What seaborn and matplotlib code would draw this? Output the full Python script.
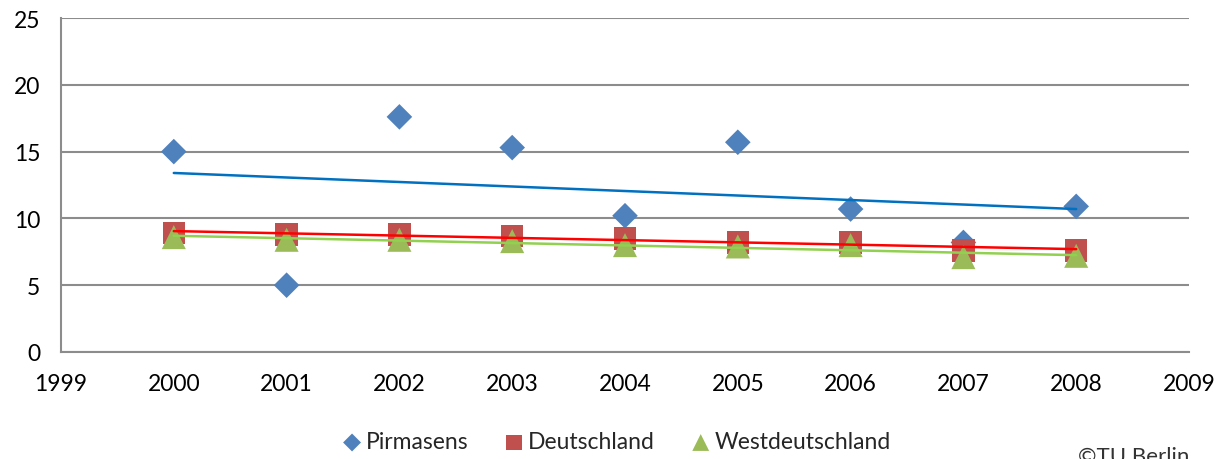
import numpy as np
import pandas as pd
import matplotlib
matplotlib.use("Agg")
import matplotlib.pyplot as plt
import seaborn as sns

years = [2000, 2001, 2002, 2003, 2004, 2005, 2006, 2007, 2008]
pirmasens = [15.0, 5.0, 17.6, 15.3, 10.2, 15.7, 10.7, 8.2, 10.9]
deutschland = [8.9, 8.8, 8.8, 8.7, 8.5, 8.2, 8.2, 7.6, 7.6]
westdeutschland = [8.6, 8.4, 8.4, 8.3, 8.0, 7.9, 8.0, 7.1, 7.2]

trend_years = [2000, 2008]
trend_pirmasens = [13.4, 10.7]
trend_deutschland = [9.05, 7.7]
trend_westdeutschland = [8.7, 7.25]

series_names = ["Pirmasens", "Deutschland", "Westdeutschland"]
marker_colors = ["#4F81BD", "#C0504D", "#9BBB59"]
trend_colors = ["#0070C0", "#FF0000", "#92D050"]
markers = ["D", "s", "^"]
marker_sizes = [170, 260, 300]

y_ticks = [0, 5, 10, 15, 20, 25]
x_ticks = [1999, 2000, 2001, 2002, 2003, 2004, 2005, 2006, 2007, 2008, 2009]

sns.set_theme(style="white")
plt.rcParams['font.family'] = ['Lato', 'DejaVu Sans']

fig = plt.figure(figsize=(12.29, 4.60), dpi=100)
ax = fig.add_axes([61/1229, 1 - 353/460, (1189 - 61)/1229, (353 - 19)/460])

values = [pirmasens, deutschland, westdeutschland]
trends = [trend_pirmasens, trend_deutschland, trend_westdeutschland]

for name, vals, m, c, s in zip(series_names, values, markers, marker_colors, marker_sizes):
    df = pd.DataFrame({"Jahr": years, "Wert": vals})
    sns.scatterplot(data=df, x="Jahr", y="Wert", marker=m, color=c, s=s,
                    edgecolor="none", ax=ax, label=name, zorder=3)

for tv, tc in zip(trends, trend_colors):
    tdf = pd.DataFrame({"Jahr": trend_years, "Wert": tv})
    sns.lineplot(data=tdf, x="Jahr", y="Wert", color=tc, lw=1.8, ax=ax,
                 zorder=4, legend=False)

ax.set_xlim(1999, 2009)
ax.set_ylim(0, 25)
ax.set_xticks(x_ticks)
ax.set_yticks(y_ticks)
ax.set_xticklabels([str(x) for x in x_ticks])
ax.set_yticklabels([str(y) for y in y_ticks])
ax.set_xlabel("")
ax.set_ylabel("")

ax.grid(axis="y", color="#8C8C8C", lw=1.5)
ax.set_axisbelow(True)
for sp in ["top", "right"]:
    ax.spines[sp].set_visible(False)
for sp in ["left", "bottom"]:
    ax.spines[sp].set_color("#8C8C8C")
    ax.spines[sp].set_linewidth(1.5)
ax.tick_params(axis="both", which="major", length=8, width=1.5, color="#8C8C8C",
               direction="out", labelsize=16.5, labelcolor="#000000")
ax.tick_params(axis="x", pad=7)
ax.tick_params(axis="y", pad=6, length=9)

handles, labels = ax.get_legend_handles_labels()
leg = fig.legend(handles, labels, loc="center", bbox_to_anchor=(0.5, 1 - 443/460),
                 ncol=3, frameon=False, fontsize=16.5, handletextpad=0.0,
                 handlelength=1.2, columnspacing=1.4, markerscale=0.7)
if ax.get_legend():
    ax.get_legend().remove()

fig.text(1078/1229, 1 - 447/460, "©TU Berlin", fontsize=16, va="top", ha="left",
         color="#333333")

fig.savefig("out.png", dpi=100)
